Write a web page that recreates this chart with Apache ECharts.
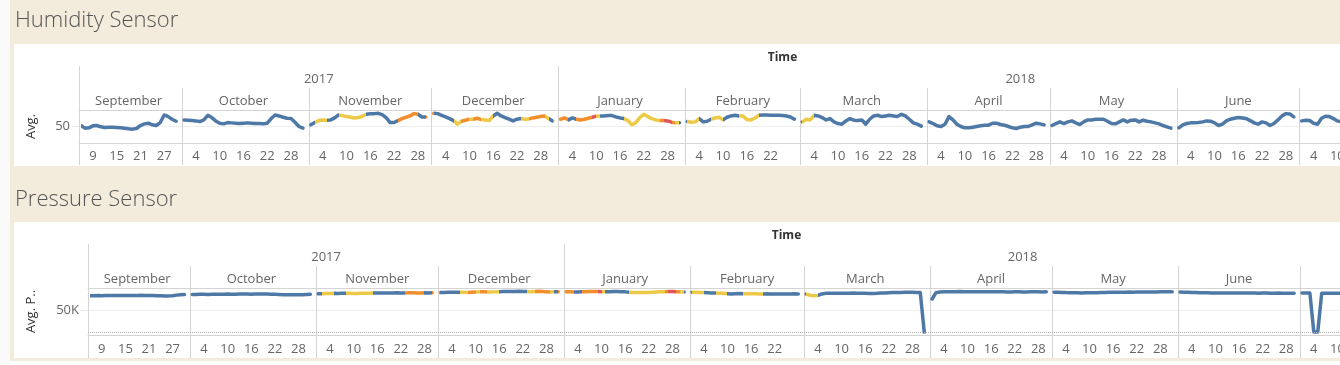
<!DOCTYPE html>
<html>
<head>
<meta charset="utf-8">
<script src="https://cdn.jsdelivr.net/npm/echarts@6/dist/echarts.min.js"></script>
<style>
html,body{margin:0;padding:0;background:#fff;}
#c{width:1340px;height:365px;}
</style>
</head>
<body>
<div id="c"></div>
<script>
// ---------- calendar / labels ----------
const monthNames = ['September','October','November','December','January','February','March','April','May','June','July','August'];
const monthYears = [2017,2017,2017,2017,2018,2018,2018,2018,2018,2018,2018,2018];
const monthFirstDay = [6,1,1,1,1,1,1,1,1,1,1,1];
const monthLastDay = [30,31,30,31,31,28,31,30,31,30,31,15];
const tickDaysSep = [9,15,21,27];
const tickDaysFeb = [4,10,16,22];
const tickDaysOther = [4,10,16,22,28];
const yearLabels = ['2017','2018'];

// ---------- Avg. humidity per day ----------
const humSep = [53,45,46,52,53,49,47,48,48,47,46,45,43,42,44,53,58,60,55,53,62,85,80,72,66];
const humOct = [70,69,68,67,65,70,84,77,67,60,58,62,61,60,59,60,61,60,59,59,58,60,74,85,82,78,75,74,63,50,45];
const humNov = [55,62,68,70,69,70,76,85,83,80,78,76,77,81,87,89,89,90,86,77,62,62,68,74,78,82,89,87,79,79];
const humDec = [90,89,84,79,74,68,57,66,69,72,72,75,71,70,68,82,90,82,77,72,67,72,74,72,73,76,78,80,82,74,67];
const humJan = [72,76,70,76,72,70,72,75,78,81,82,82,83,83,79,76,74,68,55,62,77,87,80,74,70,68,68,67,63,61,61];
const humFeb = [65,63,64,74,64,66,72,76,78,70,78,82,84,82,82,71,70,75,84,85,85,84,84,84,83,82,79,72];
const humMar = [64,72,70,84,82,77,70,74,64,59,57,67,74,69,68,70,57,72,82,84,80,82,84,82,80,87,82,72,61,57,51];
const humApr = [64,59,52,50,57,80,70,57,50,46,46,48,50,52,54,54,60,60,56,54,50,46,44,48,50,50,55,60,58,55];
const humMay = [53,59,64,59,64,67,61,56,64,70,70,72,72,72,66,59,58,64,70,64,69,70,64,69,66,64,61,58,53,49,45];
const humJun = [46,55,59,61,61,62,64,67,66,61,53,57,67,72,75,77,76,74,68,61,57,64,61,53,59,70,82,89,88,79];
const humJul = [67,69,68,60,57,75,81,80,74,67,64,64];
const humAug = [];

// ---------- Avg. pressure per day ----------
const presSep = [82500,82600,82700,82600,82800,82700,82900,83000,82800,83100,83000,83200,83100,83300,83000,83100,82800,82500,82200,82000,82100,82600,83800,84600,85000];
const presOct = [85200,85500,85600,85800,85500,85700,86000,85800,85900,86100,86000,85800,86200,86100,86300,86000,86200,86400,86300,86100,86000,85600,85200,84800,84500,84700,84600,84400,84800,85300,85800];
const presNov = [86800,87200,87500,87400,87800,87600,87900,88100,87800,87600,87700,88000,88200,88100,88400,88600,88500,88800,88700,88900,89000,88700,88900,89200,89000,88600,88800,89100,88900,89200];
const presDec = [89600,89900,90100,90300,90200,90500,90100,89800,90300,90800,91200,91500,91000,90700,91200,91600,91900,92100,91800,92300,92500,92200,92000,91700,92100,92400,91800,91200,90800,91300,91600];
const presJan = [91500,91200,90800,91000,91300,91600,91800,92000,92200,91700,91400,91600,91800,91900,91500,91200,90500,89800,89600,89700,89500,89900,90300,90800,91200,91600,91900,92100,91700,91200,90900];
const presFeb = [90600,90300,89800,89500,89200,88900,88600,88300,87800,87200,86600,86900,87300,87100,86900,87000,86800,86600,86500,86700,86600,86400,86600,86500,86300,86500,86700,86600];
const presMar = [86000,83500,82300,83000,86500,87800,88000,88200,88100,88300,88000,88200,88400,88300,88100,87900,87600,87400,87800,88400,88900,89300,89700,90000,89800,90100,90300,90100,89800,89500,0];
const presApr = [75000,89500,91000,91300,91500,91400,91600,91800,91700,91500,91600,91400,91300,91500,91700,91600,91400,91200,91300,91100,91000,91200,91300,91100,91000,91200,91400,91300,91100,91200];
const presMay = [90400,90200,90000,89600,89400,89200,89000,88900,89100,89000,89200,89400,89700,89900,90100,90300,90400,90600,90500,90700,90600,90800,90700,90900,91000,91100,90900,91200,91300,91400,91200];
const presJun = [91000,90600,90200,89900,89600,89400,89200,89000,88900,88800,88700,88800,88600,88500,88700,88600,88400,88500,88600,88400,88300,88500,88400,88200,88300,88400,88200,88100,88300,88200];
const presJul = [88500,88700,88400,0,0,87800,88000,88200,88100,88300,88200,88100];
const presAug = [];

// ---------- colour status per day (b=blue, y=yellow, o=orange, r=red) ----------
const stSep = 'bbbbbbbbbbbbbbbbbbbbbbbbb';
const stOct = 'bbbbbbbbbbbbbbbbbbbbbbbbbbbbbbb';
const stNov = 'byyybbbyyyyyyybbbbbbbbooooobbo';
const stDec = 'bbbbbyyooyooyyybbbbbbbyyooooybo';
const stJan = 'oobboooorybbbbbbyyyyyyyyyorroyb';
const stFeb = 'yyybbbyyybbbbyyyyybbbbbbbbbb';
const stMar = 'yyybbbbbbbbbbbbbbbbbbbbbbbbbbbb';
const stApr = 'bbbbbbbbbbbbbbbbbbbbbbbbbbbbbb';
const stMay = 'bbbbbbbbbbbbbbbbbbbbbbbbbbbbbbb';
const stJun = 'bbbbbbbbbbbbbbbbbbbbbbbbbbbbbb';
const stJul = 'bbbbbbbbbbbb';
const stAug = '';
const statusColors = {b:'#4e79a7', y:'#edc948', o:'#f28e2b', r:'#e15759'};

// ---------- build category table ----------
const humMonths = [humSep,humOct,humNov,humDec,humJan,humFeb,humMar,humApr,humMay,humJun,humJul,humAug];
const presMonths = [presSep,presOct,presNov,presDec,presJan,presFeb,presMar,presApr,presMay,presJun,presJul,presAug];
const stMonths = [stSep,stOct,stNov,stDec,stJan,stFeb,stMar,stApr,stMay,stJun,stJul,stAug];

const categories = [], catMonth = [], catDay = [];
const humData = [], presData = [], status = [];
const monthStart = [];
monthNames.forEach((name, mi) => {
  if (mi > 0) { // padding slot at the end of the previous month pane
    categories.push('pad-' + mi); catMonth.push(mi - 1); catDay.push(0);
    humData.push(null); presData.push(null); status.push(null);
  }
  monthStart.push(categories.length);
  for (let d = monthFirstDay[mi]; d <= monthLastDay[mi]; d++) {
    const k = d - monthFirstDay[mi];
    categories.push(monthYears[mi] + '-' + name + '-' + d);
    catMonth.push(mi); catDay.push(d);
    const h = humMonths[mi][k], p = presMonths[mi][k], s = stMonths[mi][k];
    humData.push(h === undefined ? null : h);
    presData.push(p === undefined ? null : p);
    status.push(s === undefined ? null : s);
  }
});
const N = categories.length;

const sepSet = new Set([0]);
monthStart.forEach(s => sepSet.add(s));
const daySet = new Set();
categories.forEach((c, i) => {
  const mi = catMonth[i], d = catDay[i];
  if (!d) return;
  const list = mi === 0 ? tickDaysSep : (mi === 5 ? tickDaysFeb : tickDaysOther);
  if (list.includes(d)) daySet.add(i);
});
const monthLabelIdx = {};
monthStart.forEach((s, mi) => {
  const e = mi + 1 < monthStart.length ? monthStart[mi + 1] : N;
  monthLabelIdx[Math.floor((s + e - 1) / 2)] = monthNames[mi];
});
const yearStart = [0, monthStart[monthYears.indexOf(2018)]];
const yearSepSet = new Set(yearStart);
const yearLabelIdx = {};
yearStart.forEach((s, yi) => {
  const e = yi + 1 < yearStart.length ? yearStart[yi + 1] : N;
  yearLabelIdx[Math.floor((s + e - 1) / 2)] = yearLabels[yi];
});

// visualMap pieces from status runs
const pieces = [];
let prev = 'b';
const filled = status.map(s => { if (s) prev = s; return prev; });
let runStart = 0;
for (let i = 1; i <= N; i++) {
  if (i === N || filled[i] !== filled[runStart]) {
    pieces.push({gte: runStart - 0.5, lt: i - 0.5, color: statusColors[filled[runStart]]});
    runStart = i;
  }
}

// ---------- chart ----------
const FONT = '"Open Sans","Noto Sans",sans-serif';
const LINE = '#d4d4d4';
const TXT = '#666';

function xAxesFor(g, labelMargin, tickLen) {
  return [
    { // day axis (bottom)
      type:'category', gridIndex:g, data:categories, position:'bottom', boundaryGap:true,
      axisLine:{show:true, onZero:false, lineStyle:{color:LINE}},
      axisTick:{show:true, interval:(i)=>sepSet.has(i), length:tickLen, lineStyle:{color:LINE}},
      splitLine:{show:true, interval:(i)=>sepSet.has(i), lineStyle:{color:LINE}},
      axisLabel:{interval:(i)=>daySet.has(i), formatter:(v,i)=>String(catDay[i]), color:TXT, fontSize:13, fontFamily:FONT, margin:labelMargin}
    },
    { // month header
      type:'category', gridIndex:g, data:categories, position:'top', boundaryGap:true,
      axisLine:{show:true, onZero:false, lineStyle:{color:LINE}},
      axisTick:{show:true, interval:(i)=>sepSet.has(i), length:22, lineStyle:{color:LINE}},
      splitLine:{show:false},
      axisLabel:{interval:(i)=>monthLabelIdx[i] !== undefined, formatter:(v,i)=>monthLabelIdx[i] || '', color:TXT, fontSize:13, fontFamily:FONT, margin:2}
    },
    { // year header
      type:'category', gridIndex:g, data:categories, position:'top', offset:22, boundaryGap:true,
      axisLine:{show:false, onZero:false},
      axisTick:{show:true, interval:(i)=>yearSepSet.has(i), length:22, lineStyle:{color:LINE}},
      splitLine:{show:false},
      axisLabel:{interval:(i)=>yearLabelIdx[i] !== undefined, formatter:(v,i)=>yearLabelIdx[i] || '', color:TXT, fontSize:13, fontFamily:FONT, margin:2},
      name:'Time', nameLocation:'middle', nameGap:24,
      nameTextStyle:{color:'#333', fontSize:12, fontWeight:'bold', fontFamily:FONT}
    }
  ];
}

const chart = echarts.init(document.getElementById('c'));
chart.setOption({
  animation:false,
  graphic:[
    {type:'rect', z:-100, silent:true, shape:{x:0,y:0,width:10,height:365}, style:{fill:'#fafafa'}},
    {type:'rect', z:-100, silent:true, shape:{x:10,y:0,width:1330,height:361}, style:{fill:'#f3ebdb'}},
    {type:'rect', z:-99, silent:true, shape:{x:14,y:44,width:1326,height:122}, style:{fill:'#ffffff'}},
    {type:'rect', z:-99, silent:true, shape:{x:14,y:222,width:1326,height:136}, style:{fill:'#ffffff'}},
    {type:'text', z:-98, silent:true, x:15, y:10, style:{text:'Humidity Sensor', fontSize:22, fontWeight:300, fontFamily:FONT, fill:'#555'}},
    {type:'text', z:-98, silent:true, x:15, y:189, style:{text:'Pressure Sensor', fontSize:22, fontWeight:300, fontFamily:FONT, fill:'#555'}}
  ],
  grid:[
    {left:79, top:110, width:1407, height:33, containLabel:false, outerBoundsMode:'none'},
    {left:88, top:288, width:1397, height:47, containLabel:false, outerBoundsMode:'none'}
  ],
  xAxis: [].concat(xAxesFor(0, 7, 22), xAxesFor(1, 8, 23)),
  yAxis:[
    {type:'value', gridIndex:0, min:0, max:100,
     axisLine:{show:false},
     axisTick:{show:true, customValues:[50], length:7, lineStyle:{color:'#e6e6e6'}},
     axisLabel:{customValues:[50], color:TXT, fontSize:13, fontFamily:FONT, margin:9},
     splitLine:{show:true, lineStyle:{color:'#eeeeee'}},
     name:'Avg.', nameLocation:'middle', nameRotate:90, nameGap:41,
     nameTextStyle:{color:'#333', fontSize:13, fontFamily:FONT}},
    {type:'value', gridIndex:1, min:-6800, max:100000,
     axisLine:{show:false},
     axisTick:{show:true, customValues:[50000], length:7, lineStyle:{color:'#e6e6e6'}},
     axisLabel:{customValues:[50000], formatter:(v)=>(v/1000)+'K', color:TXT, fontSize:13, fontFamily:FONT, margin:9},
     splitLine:{show:true, lineStyle:{color:'#eeeeee'}},
     name:'Avg. P..', nameLocation:'middle', nameRotate:90, nameGap:50,
     nameTextStyle:{color:'#333', fontSize:13, fontFamily:FONT}}
  ],
  visualMap:[{type:'piecewise', show:false, dimension:0, seriesIndex:[0,1], pieces:pieces}],
  series:[
    {name:'Humidity', type:'line', xAxisIndex:0, yAxisIndex:0, data:humData,
     showSymbol:false, symbol:'none', connectNulls:false,
     lineStyle:{width:3.5, cap:'round', join:'round'}},
    {name:'Pressure', type:'line', xAxisIndex:3, yAxisIndex:1, data:presData,
     showSymbol:false, symbol:'none', connectNulls:false,
     lineStyle:{width:3.5, cap:'round', join:'round'},
     markLine:{silent:true, symbol:'none', label:{show:false},
       lineStyle:{type:'dotted', color:'#b0b0b0', width:1}, data:[{yAxis:0}]}}
  ]
});
</script>
</body>
</html>
